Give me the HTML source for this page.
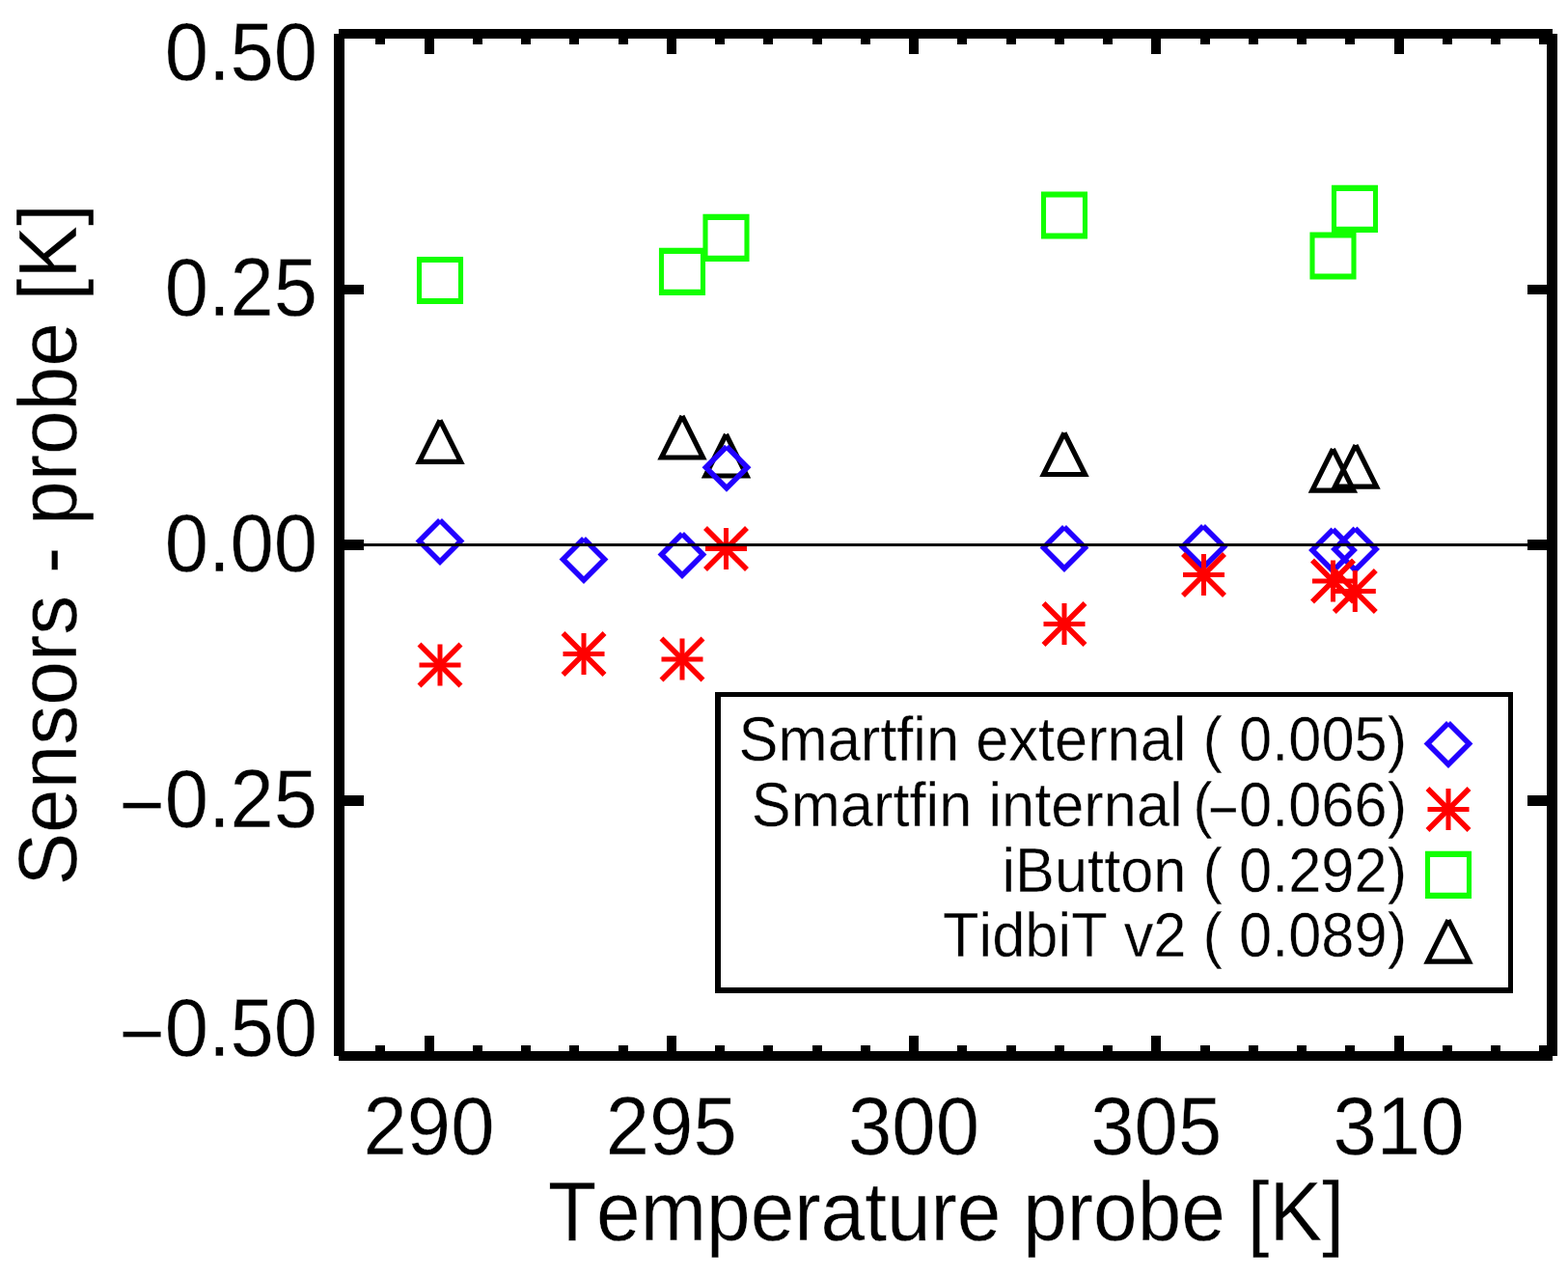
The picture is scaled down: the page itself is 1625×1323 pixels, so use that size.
<!DOCTYPE html><html><head><meta charset="utf-8"><title>Sensors - probe</title><style>html,body{margin:0;padding:0;background:#fff}svg{display:block}text{font-family:"Liberation Sans",Arial,Helvetica,sans-serif;fill:#000;stroke:#fff;stroke-width:0.35px;font-kerning:none;font-variant-ligatures:none;font-feature-settings:"kern" 0,"liga" 0}</style></head><body>
<svg width="1625" height="1323" viewBox="0 0 1625 1323">
<rect width="1625" height="1323" fill="#fff"/>
<path d="M431.95 265.9H480.05V315.1H431.95ZM437.05 272.1V308.9H474.95V272.1Z" fill="#12ff00" fill-rule="evenodd"/>
<path d="M682.95 256.8H731.05V306H682.95ZM688.05 263V299.8H725.95V263Z" fill="#12ff00" fill-rule="evenodd"/>
<path d="M728.45 221.8H776.55V271H728.45ZM733.55 228V264.8H771.45V228Z" fill="#12ff00" fill-rule="evenodd"/>
<path d="M1078.95 198.4H1127.05V247.6H1078.95ZM1084.05 204.6V241.4H1121.95V204.6Z" fill="#12ff00" fill-rule="evenodd"/>
<path d="M1357.45 240.4H1405.55V289.6H1357.45ZM1362.55 246.6V283.4H1400.45V246.6Z" fill="#12ff00" fill-rule="evenodd"/>
<path d="M1379.95 191.8H1428.05V241H1379.95ZM1385.05 198V234.8H1422.95V198Z" fill="#12ff00" fill-rule="evenodd"/>
<path d="M456 435.3L477.5 478.3L434.5 478.3L456 435.3" fill="none" stroke="#000" stroke-width="5.2"/>
<path d="M707 431L728.5 474L685.5 474L707 431" fill="none" stroke="#000" stroke-width="5.2"/>
<path d="M752.5 450L774 493L731 493L752.5 450" fill="none" stroke="#000" stroke-width="5.2"/>
<path d="M1103 448.5L1124.5 491.5L1081.5 491.5L1103 448.5" fill="none" stroke="#000" stroke-width="5.2"/>
<path d="M1381.4 465.2L1402.9 508.2L1359.9 508.2L1381.4 465.2" fill="none" stroke="#000" stroke-width="5.2"/>
<path d="M1405 461.1L1426.5 504.1L1383.5 504.1L1405 461.1" fill="none" stroke="#000" stroke-width="5.2"/>
<path d="M456 539L477.5 560.5L456 582L434.5 560.5L456 539" fill="none" stroke="#2200ff" stroke-width="5.6"/>
<path d="M605 558L626.5 579.5L605 601L583.5 579.5L605 558" fill="none" stroke="#2200ff" stroke-width="5.6"/>
<path d="M707 553L728.5 574.5L707 596L685.5 574.5L707 553" fill="none" stroke="#2200ff" stroke-width="5.6"/>
<path d="M753 462.8L774.5 484.3L753 505.8L731.5 484.3L753 462.8" fill="none" stroke="#2200ff" stroke-width="5.6"/>
<path d="M1103 546L1124.5 567.5L1103 589L1081.5 567.5L1103 546" fill="none" stroke="#2200ff" stroke-width="5.6"/>
<path d="M1247 545L1268.5 566.5L1247 588L1225.5 566.5L1247 545" fill="none" stroke="#2200ff" stroke-width="5.6"/>
<path d="M1381.5 548.5L1403 570L1381.5 591.5L1360 570L1381.5 548.5" fill="none" stroke="#2200ff" stroke-width="5.6"/>
<path d="M1404.5 547.5L1426 569L1404.5 590.5L1383 569L1404.5 547.5" fill="none" stroke="#2200ff" stroke-width="5.6"/>
<path d="M456 667.5V710.5M434.5 689H477.5" fill="none" stroke="#ff0000" stroke-width="5"/><path d="M434.5 667.5L477.5 710.5M434.5 710.5L477.5 667.5" fill="none" stroke="#ff0000" stroke-width="5.6"/>
<path d="M605 655.9V698.9M583.5 677.4H626.5" fill="none" stroke="#ff0000" stroke-width="5"/><path d="M583.5 655.9L626.5 698.9M583.5 698.9L626.5 655.9" fill="none" stroke="#ff0000" stroke-width="5.6"/>
<path d="M707 661.4V704.4M685.5 682.9H728.5" fill="none" stroke="#ff0000" stroke-width="5"/><path d="M685.5 661.4L728.5 704.4M685.5 704.4L728.5 661.4" fill="none" stroke="#ff0000" stroke-width="5.6"/>
<path d="M752.5 547V590M731 568.5H774" fill="none" stroke="#ff0000" stroke-width="5"/><path d="M731 547L774 590M731 590L774 547" fill="none" stroke="#ff0000" stroke-width="5.6"/>
<path d="M1103 624.9V667.9M1081.5 646.4H1124.5" fill="none" stroke="#ff0000" stroke-width="5"/><path d="M1081.5 624.9L1124.5 667.9M1081.5 667.9L1124.5 624.9" fill="none" stroke="#ff0000" stroke-width="5.6"/>
<path d="M1247.5 574V617M1226 595.5H1269" fill="none" stroke="#ff0000" stroke-width="5"/><path d="M1226 574L1269 617M1226 617L1269 574" fill="none" stroke="#ff0000" stroke-width="5.6"/>
<path d="M1381.5 580.5V623.5M1360 602H1403" fill="none" stroke="#ff0000" stroke-width="5"/><path d="M1360 580.5L1403 623.5M1360 623.5L1403 580.5" fill="none" stroke="#ff0000" stroke-width="5.6"/>
<path d="M1404.3 591V634M1382.8 612.5H1425.8" fill="none" stroke="#ff0000" stroke-width="5"/><path d="M1382.8 591L1425.8 634M1382.8 634L1425.8 591" fill="none" stroke="#ff0000" stroke-width="5.6"/>
<rect x="351" y="563" width="1258" height="3" fill="#000"/>
<rect x="741" y="717" width="827" height="5" fill="#000"/>
<rect x="741" y="1023" width="827" height="6" fill="#000"/>
<rect x="741" y="717" width="6" height="312" fill="#000"/>
<rect x="1563" y="717" width="5" height="312" fill="#000"/>
<path d="M1501 749L1522.5 770.5L1501 792L1479.5 770.5L1501 749" fill="none" stroke="#2200ff" stroke-width="5.6"/>
<path d="M1501 817V860M1479.5 838.5H1522.5" fill="none" stroke="#ff0000" stroke-width="5"/><path d="M1479.5 817L1522.5 860M1479.5 860L1522.5 817" fill="none" stroke="#ff0000" stroke-width="5.6"/>
<path d="M1476.95 881.8H1525.05V931H1476.95ZM1482.05 888V924.8H1519.95V888Z" fill="#12ff00" fill-rule="evenodd"/>
<path d="M1501 953.1L1522.5 996.1L1479.5 996.1L1501 953.1" fill="none" stroke="#000" stroke-width="5.2"/>
<text transform="translate(1458.1 788) scale(1 1.065)" font-size="61.4" text-anchor="end">Smartfin external ( 0.005)</text>
<text transform="translate(778.8 856) scale(1 1.065)" font-size="61.4" text-anchor="start">Smartfin internal</text>
<text transform="translate(1236.2 856) scale(1 1.065)" font-size="61.4" text-anchor="start">(</text>
<text transform="translate(1252.1 860.5) scale(0.882 1.065)" font-size="61.4">−</text>
<text transform="translate(1458.1 856) scale(1 1.065)" font-size="61.4" text-anchor="end">0.066)</text>
<text transform="translate(1458.1 923.5) scale(1 1.065)" font-size="61.4" text-anchor="end">iButton ( 0.292)</text>
<text transform="translate(1458.1 991.3) scale(1 1.065)" font-size="61.4" text-anchor="end">TidbiT v2 ( 0.089)</text>
<g fill="#000">
<rect x="346" y="35" width="11" height="1059"/>
<rect x="1603" y="35" width="11" height="1059"/>
<rect x="351" y="30" width="1258" height="10"/>
<rect x="351" y="1089" width="1258" height="10"/>
<rect x="389" y="40" width="10" height="6"/>
<rect x="389" y="1083" width="10" height="6"/>
<rect x="440" y="40" width="10" height="16"/>
<rect x="440" y="1073" width="10" height="16"/>
<rect x="490" y="40" width="10" height="6"/>
<rect x="490" y="1083" width="10" height="6"/>
<rect x="540" y="40" width="10" height="6"/>
<rect x="540" y="1083" width="10" height="6"/>
<rect x="590" y="40" width="10" height="6"/>
<rect x="590" y="1083" width="10" height="6"/>
<rect x="641" y="40" width="10" height="6"/>
<rect x="641" y="1083" width="10" height="6"/>
<rect x="691" y="40" width="10" height="16"/>
<rect x="691" y="1073" width="10" height="16"/>
<rect x="741" y="40" width="10" height="6"/>
<rect x="741" y="1083" width="10" height="6"/>
<rect x="791" y="40" width="10" height="6"/>
<rect x="791" y="1083" width="10" height="6"/>
<rect x="842" y="40" width="10" height="6"/>
<rect x="842" y="1083" width="10" height="6"/>
<rect x="892" y="40" width="10" height="6"/>
<rect x="892" y="1083" width="10" height="6"/>
<rect x="942" y="40" width="10" height="16"/>
<rect x="942" y="1073" width="10" height="16"/>
<rect x="992" y="40" width="10" height="6"/>
<rect x="992" y="1083" width="10" height="6"/>
<rect x="1043" y="40" width="10" height="6"/>
<rect x="1043" y="1083" width="10" height="6"/>
<rect x="1093" y="40" width="10" height="6"/>
<rect x="1093" y="1083" width="10" height="6"/>
<rect x="1143" y="40" width="10" height="6"/>
<rect x="1143" y="1083" width="10" height="6"/>
<rect x="1193" y="40" width="10" height="16"/>
<rect x="1193" y="1073" width="10" height="16"/>
<rect x="1244" y="40" width="10" height="6"/>
<rect x="1244" y="1083" width="10" height="6"/>
<rect x="1294" y="40" width="10" height="6"/>
<rect x="1294" y="1083" width="10" height="6"/>
<rect x="1344" y="40" width="10" height="6"/>
<rect x="1344" y="1083" width="10" height="6"/>
<rect x="1394" y="40" width="10" height="6"/>
<rect x="1394" y="1083" width="10" height="6"/>
<rect x="1445" y="40" width="10" height="16"/>
<rect x="1445" y="1073" width="10" height="16"/>
<rect x="1495" y="40" width="10" height="6"/>
<rect x="1495" y="1083" width="10" height="6"/>
<rect x="1545" y="40" width="10" height="6"/>
<rect x="1545" y="1083" width="10" height="6"/>
<rect x="1595" y="40" width="10" height="6"/>
<rect x="1595" y="1083" width="10" height="6"/>
<rect x="357" y="30" width="20" height="10"/>
<rect x="1583" y="30" width="20" height="10"/>
<rect x="357" y="295" width="20" height="10"/>
<rect x="1583" y="295" width="20" height="10"/>
<rect x="357" y="559" width="20" height="11"/>
<rect x="1583" y="559" width="20" height="11"/>
<rect x="357" y="824" width="20" height="11"/>
<rect x="1583" y="824" width="20" height="11"/>
<rect x="357" y="1089" width="20" height="10"/>
<rect x="1583" y="1089" width="20" height="10"/>
</g>
<text transform="translate(329.1 83) scale(1 1.052)" font-size="81.4" text-anchor="end">0.50</text>
<text transform="translate(329.1 327) scale(1 1.052)" font-size="81.4" text-anchor="end">0.25</text>
<text transform="translate(329.1 592) scale(1 1.052)" font-size="81.4" text-anchor="end">0.00</text>
<text transform="translate(329.1 856.5) scale(1 1.052)" font-size="81.4" text-anchor="end"><tspan dy="5.7">−</tspan><tspan dy="-5.7">0.25</tspan></text>
<text transform="translate(329.1 1093.7) scale(1 1.052)" font-size="81.4" text-anchor="end"><tspan dy="5.7">−</tspan><tspan dy="-5.7">0.50</tspan></text>
<text transform="translate(444.5 1196) scale(1 1.052)" font-size="81.4" text-anchor="middle">290</text>
<text transform="translate(695.75 1196) scale(1 1.052)" font-size="81.4" text-anchor="middle">295</text>
<text transform="translate(947 1196) scale(1 1.052)" font-size="81.4" text-anchor="middle">300</text>
<text transform="translate(1198.25 1196) scale(1 1.052)" font-size="81.4" text-anchor="middle">305</text>
<text transform="translate(1449.5 1196) scale(1 1.052)" font-size="81.4" text-anchor="middle">310</text>
<text transform="translate(980.5 1284.7) scale(1 1.058)" font-size="82" text-anchor="middle">Temperature probe [K]</text>
<text transform="translate(79 564.4) rotate(-90) scale(1 1.046)" font-size="82" text-anchor="middle">Sensors - probe [K]</text>
</svg></body></html>
